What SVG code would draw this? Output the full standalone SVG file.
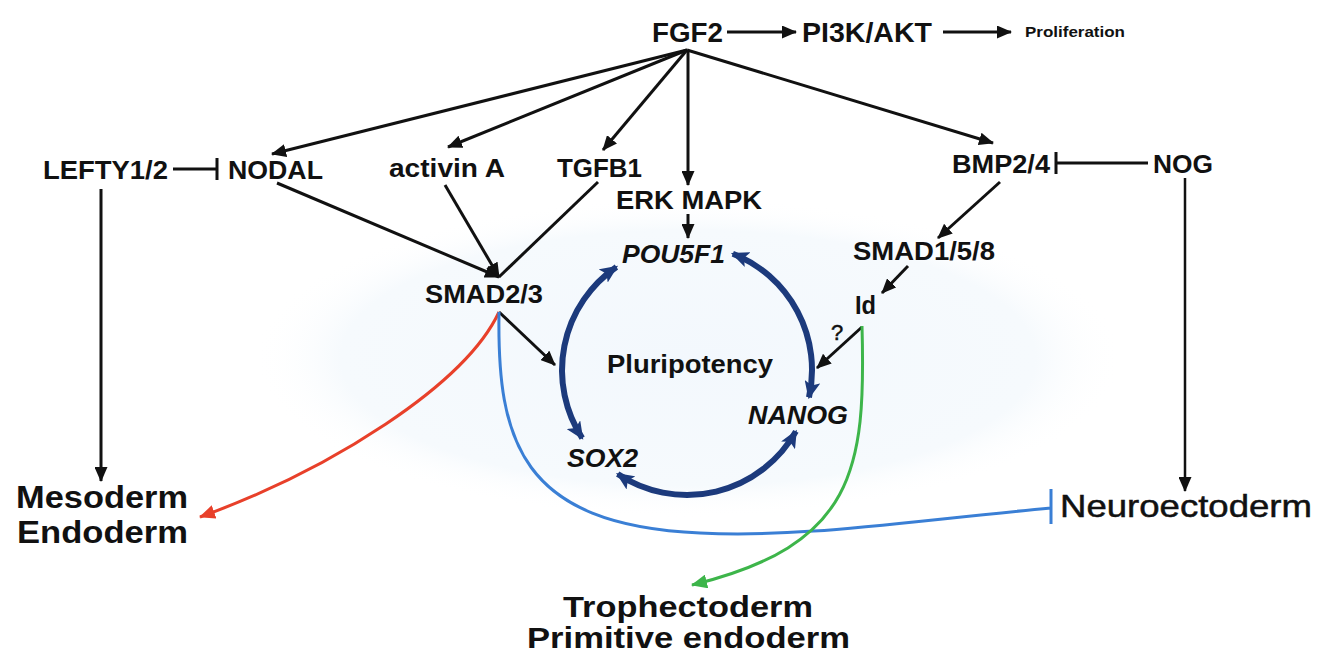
<svg xmlns="http://www.w3.org/2000/svg" width="1320" height="655" viewBox="0 0 1320 655">
<defs>
<style>
.t{font-family:"Liberation Sans",Arial,sans-serif;font-weight:bold;fill:#111;}
.n{font-weight:normal;stroke:#111;stroke-width:0.5;}
.i{font-style:italic;}
.k{stroke:#111;stroke-width:3;fill:none;}
.k2{stroke:#111;stroke-width:2.5;fill:none;}
.cyc{stroke:#1c3a7c;stroke-width:6;fill:none;}
</style>
<radialGradient id="bg" cx="50%" cy="50%" r="50%">
<stop offset="0" stop-color="#f3f8fd"/>
<stop offset="0.8" stop-color="#f6fafd"/>
<stop offset="1" stop-color="#ffffff" stop-opacity="0"/>
</radialGradient>
<marker id="ak" markerUnits="userSpaceOnUse" markerWidth="15" markerHeight="13" viewBox="0 0 15 13" refX="14" refY="6.5" orient="auto">
<path d="M0,0 L15,6.5 L0,13 z" fill="#111"/>
</marker>
<marker id="ac" markerUnits="userSpaceOnUse" markerWidth="18" markerHeight="16" viewBox="0 0 18 16" refX="16" refY="8" orient="auto-start-reverse">
<path d="M0,0 L18,8 L0,16 L4,8 z" fill="#1c3a7c"/>
</marker>
<marker id="ar" markerUnits="userSpaceOnUse" markerWidth="16" markerHeight="14" viewBox="0 0 16 14" refX="15" refY="7" orient="auto">
<path d="M0,0 L16,7 L0,14 z" fill="#e8402a"/>
</marker>
<marker id="ag" markerUnits="userSpaceOnUse" markerWidth="16" markerHeight="14" viewBox="0 0 16 14" refX="15" refY="7" orient="auto">
<path d="M0,0 L16,7 L0,14 z" fill="#3db54a"/>
</marker>
</defs>
<rect width="1320" height="655" fill="#ffffff"/>
<ellipse cx="688" cy="358" rx="434" ry="160" fill="url(#bg)"/>

<g id="connectors">
<path class="k" d="M727,32 L796,32" marker-end="url(#ak)"/>
<path class="k" d="M943,32 L1011,32" marker-end="url(#ak)"/>
<path class="k" d="M687,50 L272,154" marker-end="url(#ak)"/>
<path class="k" d="M687,50 L448,147" marker-end="url(#ak)"/>
<path class="k" d="M687,50 L603,150" marker-end="url(#ak)"/>
<path class="k" d="M688,50 L688,185" marker-end="url(#ak)"/>
<path class="k" d="M687,50 L993,143" marker-end="url(#ak)"/>
<path class="k" d="M173,169 L217,169 M217,158 L217,180"/>
<path class="k" d="M277,183 L499,277" marker-end="url(#ak)"/>
<path class="k" d="M445,185 L499,277" marker-end="url(#ak)"/>
<path class="k" d="M598,182 L499,277"/>
<path class="k" d="M688,214 L688,238" marker-end="url(#ak)"/>
<path class="k" d="M1148,163 L1056,163 M1056,152 L1056,174"/>
<path class="k" d="M1000,182 L938,238" marker-end="url(#ak)"/>
<path class="k" d="M908,266 L882,293" marker-end="url(#ak)"/>
<path class="k" d="M499,312 L555,365" marker-end="url(#ak)"/>
<path class="k" d="M862,327 L817,368" marker-end="url(#ak)"/>
<path class="k" d="M101,189 L101,481" marker-end="url(#ak)"/>
<path class="k2" d="M1185,178 L1185,491" marker-end="url(#ak)"/>
<path class="cyc" d="M616.4,266.9 A125,125 0 0 0 582.2,438.1" marker-start="url(#ac)" marker-end="url(#ac)"/>
<path class="cyc" d="M732.8,253.7 A125,125 0 0 1 809,397.3" marker-start="url(#ac)" marker-end="url(#ac)"/>
<path class="cyc" d="M795.9,431.4 A125,125 0 0 1 617.7,474" marker-start="url(#ac)" marker-end="url(#ac)"/>
<path d="M499,312 C465,385 330,470 200,517" stroke="#e8402a" stroke-width="3" fill="none" marker-end="url(#ar)"/>
<path d="M499,312 C497,440 520,525 700,533 C800,538 900,522 1051,508 M1051,489 L1051,524" stroke="#3a7fd5" stroke-width="3" fill="none"/>
<path d="M862,326 C866,470 855,545 692,585" stroke="#3db54a" stroke-width="3" fill="none" marker-end="url(#ag)"/>
</g>

<g id="node-fgf2"><text class="t" x="652" y="42" font-size="28" textLength="71" lengthAdjust="spacingAndGlyphs">FGF2</text></g>
<g id="node-pi3k"><text class="t" x="802" y="42" font-size="28" textLength="130" lengthAdjust="spacingAndGlyphs">PI3K/AKT</text></g>
<g id="node-proliferation"><text class="t" x="1025" y="37" font-size="15" textLength="100" lengthAdjust="spacingAndGlyphs">Proliferation</text></g>
<g id="node-lefty"><text class="t" x="43" y="179" font-size="25" textLength="125" lengthAdjust="spacingAndGlyphs">LEFTY1/2</text></g>
<g id="node-nodal"><text class="t" x="228" y="179" font-size="25" textLength="95" lengthAdjust="spacingAndGlyphs">NODAL</text></g>
<g id="node-activin"><text class="t" x="389" y="177" font-size="25" textLength="116" lengthAdjust="spacingAndGlyphs">activin A</text></g>
<g id="node-tgfb1"><text class="t" x="557" y="177" font-size="25" textLength="85" lengthAdjust="spacingAndGlyphs">TGFB1</text></g>
<g id="node-erk"><text class="t" x="616" y="209" font-size="25" textLength="146" lengthAdjust="spacingAndGlyphs">ERK MAPK</text></g>
<g id="node-bmp"><text class="t" x="952" y="173" font-size="25" textLength="98" lengthAdjust="spacingAndGlyphs">BMP2/4</text></g>
<g id="node-nog"><text class="t" x="1153" y="173" font-size="25" textLength="60" lengthAdjust="spacingAndGlyphs">NOG</text></g>
<g id="node-smad158"><text class="t" x="853" y="260" font-size="25" textLength="142" lengthAdjust="spacingAndGlyphs">SMAD1/5/8</text></g>
<g id="node-pou5f1"><text class="t i" x="622" y="263" font-size="25" textLength="103" lengthAdjust="spacingAndGlyphs">POU5F1</text></g>
<g id="node-smad23"><text class="t" x="425" y="303" font-size="25" textLength="118" lengthAdjust="spacingAndGlyphs">SMAD2/3</text></g>
<g id="node-id"><text class="t" x="855" y="314" font-size="25" textLength="21" lengthAdjust="spacingAndGlyphs">Id</text></g>
<g id="label-q"><text class="t n" x="831" y="340" font-size="22">?</text></g>
<g id="node-pluripotency"><text class="t" x="607" y="373" font-size="25" textLength="166" lengthAdjust="spacingAndGlyphs">Pluripotency</text></g>
<g id="node-nanog"><text class="t i" x="748" y="424" font-size="25" textLength="100" lengthAdjust="spacingAndGlyphs">NANOG</text></g>
<g id="node-sox2"><text class="t i" x="567" y="467" font-size="25" textLength="71" lengthAdjust="spacingAndGlyphs">SOX2</text></g>
<g id="node-mesendo"><text class="t" x="16" y="508" font-size="31" textLength="172" lengthAdjust="spacingAndGlyphs">Mesoderm</text><text class="t" x="17" y="543" font-size="31" textLength="171" lengthAdjust="spacingAndGlyphs">Endoderm</text></g>
<g id="node-neuro"><text class="t n" x="1060" y="517" font-size="32" textLength="252" lengthAdjust="spacingAndGlyphs">Neuroectoderm</text></g>
<g id="node-tropho"><text class="t" x="563" y="617" font-size="30" textLength="250" lengthAdjust="spacingAndGlyphs">Trophectoderm</text><text class="t" x="527" y="648" font-size="30" textLength="323" lengthAdjust="spacingAndGlyphs">Primitive endoderm</text></g>
</svg>
